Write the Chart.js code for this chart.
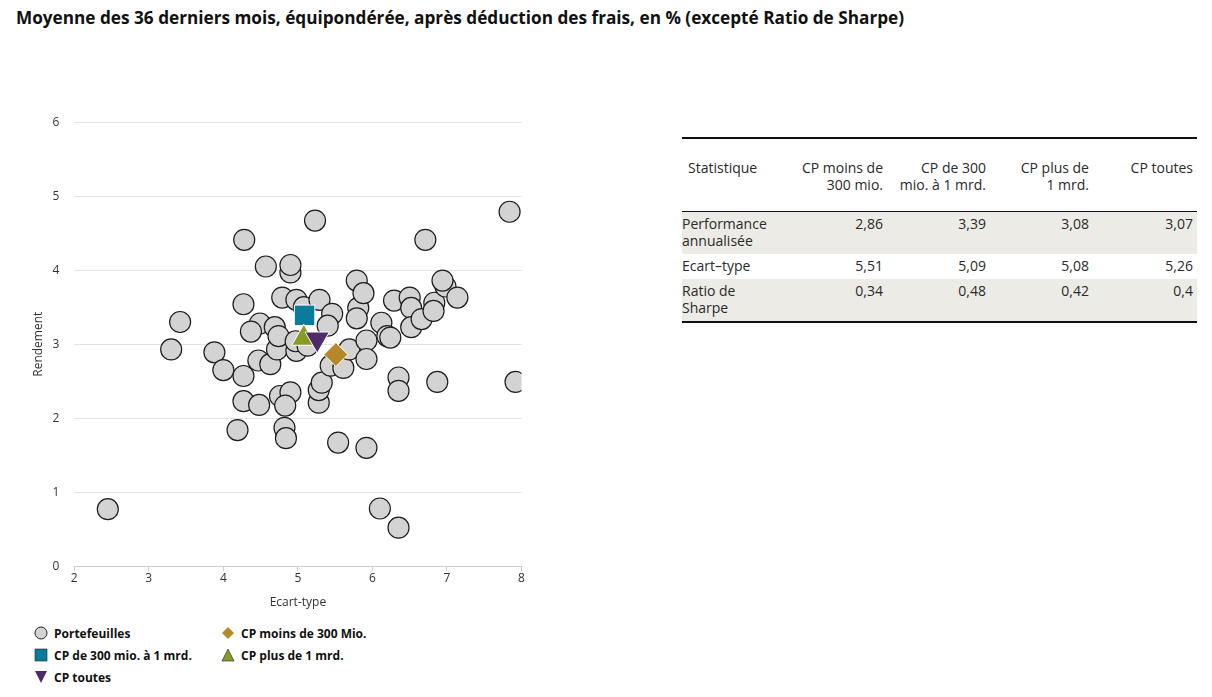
<!DOCTYPE html>
<html lang="fr">
<head>
<meta charset="utf-8">
<script src="https://cdn.jsdelivr.net/npm/chart.js@4"></script>
<style>
  body { margin: 0; background: #fff; font-family: 'Open Sans', 'Noto Sans', sans-serif; color: #222; }
  #titre { position: absolute; left: 16px; top: 6px; font-size: 17.2px; font-weight: bold; color: #111; white-space: nowrap; }
  #zone { position: absolute; left: 23px; top: 100px; width: 514px; height: 510px; }
  #legende { position: absolute; left: 34px; top: 624px; font-size: 12px; font-weight: bold; color: #111; }
  #legende .item { position: absolute; white-space: nowrap; display: flex; align-items: center; height: 18px; }
  #legende svg { margin-right: 6px; }
  table { position: absolute; left: 682px; top: 137px; width: 515px; border-collapse: collapse; table-layout: fixed; font-size: 14px; color: #2a2a2a; }
  table th { font-weight: normal; vertical-align: top; text-align: right; padding: 20px 4px 18px 4px; line-height: 17px; }
  table th:first-child { text-align: left; padding-left: 6px; }
  table td { text-align: right; vertical-align: top; padding: 3px 4px 5px 0; line-height: 17px; }
  table td:first-child { text-align: left; padding-left: 0; }
  thead tr { border-top: 2px solid #111; border-bottom: 1px solid #111; }
  tbody tr.gris { background: #ecebe6; }
  tbody tr:last-child { border-bottom: 2px solid #111; }
</style>
</head>
<body>
<div id="titre">Moyenne des 36 derniers mois, équipondérée, après déduction des frais, en % (excepté Ratio de Sharpe)</div>
<div id="zone"><canvas id="nuageChart"></canvas></div>
<div id="legende"></div>
<table id="stats">
  <colgroup><col style="width:108px"><col style="width:97px"><col style="width:103px"><col style="width:103px"><col style="width:104px"></colgroup>
</table>

<script>
// Portefeuilles individuels (écart-type, rendement)
const portefeuillesX = [2.45, 3.30, 3.42, 3.88, 4.00, 4.19, 4.27, 4.27, 4.27, 4.28,
    4.48, 4.47, 4.49, 4.37, 4.57, 4.63, 4.72, 4.69, 4.74, 4.79,
    4.76, 4.90, 4.83, 4.82, 4.84, 4.90, 4.90, 4.98, 5.08, 4.98,
    4.97, 5.13, 5.23, 5.29, 5.46, 5.40, 5.28, 5.28, 5.32, 5.44,
    5.61, 5.69, 5.54, 5.79, 5.81, 5.79, 5.88, 5.92, 5.92, 5.92,
    6.10, 6.35, 6.12, 6.20, 6.24, 6.29, 6.35, 6.35, 6.50, 6.52,
    6.52, 6.66, 6.71, 6.83, 6.82, 6.87, 6.98, 6.94, 7.14, 7.84, 7.92];
const portefeuillesY = [0.77, 2.93, 3.30, 2.89, 2.65, 1.84, 2.57, 2.23, 3.54, 4.41,
    2.18, 2.78, 3.28, 3.17, 4.05, 2.73, 2.93, 3.23, 3.11, 3.63,
    2.30, 2.35, 2.17, 1.87, 1.73, 3.97, 4.07, 3.60, 3.50, 2.91,
    3.04, 2.98, 4.67, 3.60, 3.41, 3.25, 2.21, 2.38, 2.48, 2.71,
    2.68, 2.93, 1.67, 3.86, 3.49, 3.35, 3.69, 3.05, 2.80, 1.60,
    0.78, 0.52, 3.29, 3.11, 3.09, 3.59, 2.55, 2.37, 3.63, 3.49,
    3.23, 3.34, 4.41, 3.56, 3.45, 2.49, 3.78, 3.86, 3.63, 4.79, 2.49];

// Catégories de caisses de pension (CP)
const categories = ['CP moins de 300 Mio.', 'CP de 300 mio. à 1 mrd.', 'CP plus de 1 mrd.', 'CP toutes'];
const enTetes = ['CP moins de<br>300 mio.', 'CP de 300<br>mio. à 1 mrd.', 'CP plus de<br>1 mrd.', 'CP toutes'];
const performance = [2.86, 3.39, 3.08, 3.07];
const ecartType = [5.51, 5.09, 5.08, 5.26];
const ratioSharpe = [0.34, 0.48, 0.42, 0.4];

const couleurs = ['#b5892a', '#0a7b9c', '#8a9b25', '#4d2c68'];
const formes = ['rectRot', 'rect', 'triangle', 'triangle'];
const rotations = [0, 0, 0, 180];
const tailles = [12, 14.5, 14, 14];

const xTicks = [2, 3, 4, 5, 6, 7, 8];
const yTicks = [0, 1, 2, 3, 4, 5, 6];

const policeAxe = { family: "'Open Sans'", size: 12 };

const datasets = [{
    label: 'Portefeuilles',
    data: portefeuillesX.map((x, i) => ({ x: x, y: portefeuillesY[i] })),
    backgroundColor: '#d3d3d3',
    borderColor: '#1e1e1e',
    borderWidth: 1.2,
    pointRadius: 10.5,
    pointHoverRadius: 10.5,
    order: 10 // sous les symboles des CP
}];
categories.forEach((nom, i) => {
    datasets.push({
        label: nom,
        data: [{ x: ecartType[i], y: performance[i] }],
        backgroundColor: couleurs[i],
        borderColor: '#ffffff',
        borderWidth: 1,
        pointStyle: formes[i],
        rotation: rotations[i],
        pointRadius: tailles[i],
        pointHoverRadius: tailles[i],
        order: 4 - i
    });
});

new Chart(document.getElementById('nuageChart'), {
    type: 'scatter',
    data: { datasets: datasets },
    options: {
        responsive: true,
        maintainAspectRatio: false,
        animation: false,
        layout: { padding: { left: 0, right: 14, top: 16, bottom: 0 } },
        plugins: { legend: { display: false }, tooltip: { enabled: false } },
        scales: {
            x: {
                type: 'linear',
                min: 2, max: 8,
                afterBuildTicks: axis => { axis.ticks = xTicks.map(v => ({ value: v })); },
                grid: { drawOnChartArea: false, drawTicks: true, tickLength: 5, color: '#c9ced8' },
                border: { display: true, color: '#c9ced8' },
                ticks: { color: '#333', font: policeAxe, padding: 0 },
                title: { display: true, text: 'Ecart-type', color: '#333', font: policeAxe, padding: { top: 10, bottom: 0 } }
            },
            y: {
                type: 'linear',
                min: 0, max: 6,
                afterBuildTicks: axis => { axis.ticks = yTicks.map(v => ({ value: v })); },
                grid: { color: '#e4e4e4', drawTicks: false },
                border: { display: false },
                ticks: { color: '#333', font: policeAxe, padding: 15 },
                title: { display: true, text: 'Rendement', color: '#333', font: policeAxe, padding: { top: 8, bottom: -8 } }
            }
        }
    }
});

// Légende
const symboles = {
    cercle: '<svg width="14" height="14"><circle cx="7" cy="7" r="6" fill="#d3d3d3" stroke="#222" stroke-width="1"/></svg>',
    losange: '<svg width="14" height="14"><polygon points="7,1 13,7 7,13 1,7" fill="#b5892a"/></svg>',
    carre: '<svg width="14" height="14"><rect x="1" y="1" width="12" height="12" fill="#0a7b9c" stroke="#222" stroke-width="0.6"/></svg>',
    triHaut: '<svg width="14" height="14"><polygon points="7,1 13,13 1,13" fill="#8a9b25" stroke="#222" stroke-width="0.6"/></svg>',
    triBas: '<svg width="14" height="14"><polygon points="1,1 13,1 7,13" fill="#4d2c68"/></svg>'
};
const entreesLegende = [
    ['cercle', 'Portefeuilles', 0, 0],
    ['losange', categories[0], 187, 0],
    ['carre', categories[1], 0, 22],
    ['triHaut', categories[2], 187, 22],
    ['triBas', categories[3], 0, 44]
];
const legende = document.getElementById('legende');
entreesLegende.forEach(([s, txt, gx, gy]) => {
    const d = document.createElement('div');
    d.className = 'item';
    d.style.left = gx + 'px';
    d.style.top = gy + 'px';
    d.innerHTML = symboles[s] + '<span>' + txt + '</span>';
    legende.appendChild(d);
});

// Tableau des statistiques
const fmt = v => String(v).replace('.', ',');
let html = '<thead><tr><th>Statistique</th>' + enTetes.map(h => '<th>' + h + '</th>').join('') + '</tr></thead><tbody>';
const lignes = [
    ['Performance<br>annualisée', performance, 'gris'],
    ['Ecart–type', ecartType, ''],
    ['Ratio de<br>Sharpe', ratioSharpe, 'gris']
];
lignes.forEach(([nom, vals, cls]) => {
    html += '<tr class="' + cls + '"><td>' + nom + '</td>' + vals.map(v => '<td>' + fmt(v) + '</td>').join('') + '</tr>';
});
html += '</tbody>';
document.getElementById('stats').insertAdjacentHTML('beforeend', html);
</script>
</body>
</html>
